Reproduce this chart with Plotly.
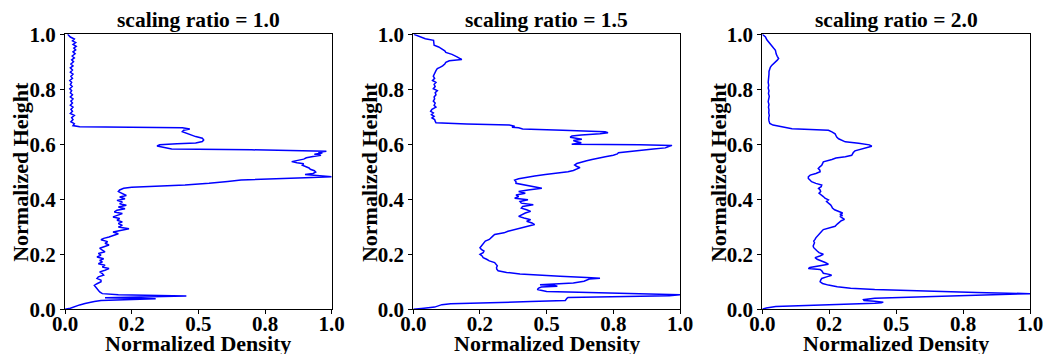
import plotly.graph_objects as go

# ---------------- data ----------------
titles = ["scaling ratio = 1.0", "scaling ratio = 1.5", "scaling ratio = 2.0"]
x_tickvals = [0.0, 0.25, 0.5, 0.75, 1.0]
x_ticktext = ["0.0", "0.2", "0.5", "0.8", "1.0"]
y_tickvals = [0.0, 0.2, 0.4, 0.6, 0.8, 1.0]
y_ticktext = ["0.0", "0.2", "0.4", "0.6", "0.8", "1.0"]

height_1 = [1.000, .990, .983, .976, .970, .963, .956, .950, .943, .936, .929, .921, .914, .907, .900,
            .892, .885, .878, .870, .862, .855, .847, .840, .832, .825, .817, .810, .802, .795, .787,
            .780, .772, .765, .757, .750, .742, .735, .727, .720, .712, .705, .697, .690, .682, .675,
            .668, .664, .662, .660, .656, .651, .646, .640, .634, .628, .622, .616, .610, .605, .602,
            .598, .594, .590, .586, .583, .580, .575, .571, .568, .564, .560, .556, .551, .546, .541,
            .537, .533, .529, .524, .519, .514, .509, .504, .499, .494, .490, .486, .482, .478, .474,
            .470, .465, .458, .452, .447, .444, .440, .434, .428, .421, .414, .408, .402, .396, .390,
            .384, .378, .372, .366, .360, .354, .348, .342, .336, .330, .324, .318, .312, .305, .299,
            .293, .287, .281, .275, .269, .263, .258, .253, .246, .240, .234, .228, .222, .215, .209,
            .203, .197, .190, .184, .178, .172, .166, .160, .154, .148, .142, .136, .130, .124, .118,
            .112, .106, .100, .093, .087, .081, .075, .069, .063, .057, .053, .048, .045, .042, .038,
            .035, .032, .028, .025, .021, .016, .010, .004, 0.0]
density_1 = [.010, .020, .035, .028, .040, .030, .042, .033, .040, .030, .038, .027, .035, .025, .032,
             .022, .030, .020, .028, .020, .030, .022, .028, .018, .025, .020, .027, .018, .025, .020,
             .028, .020, .030, .022, .028, .020, .030, .022, .028, .020, .035, .025, .030, .022, .035,
             .030, .055, .250, .440, .468, .445, .440, .455, .470, .490, .515, .520, .515, .490, .420,
             .355, .345, .365, .385, .400, .700, .980, .950, .965, .935, .960, .930, .905, .895, .870,
             .850, .870, .895, .890, .905, .915, .920, .935, .940, .930, .900, .950, 1.000, .900, .760,
             .660, .610, .540, .450, .330, .250, .220, .205, .200, .215, .230, .205, .225, .195, .215,
             .205, .230, .200, .225, .195, .185, .215, .195, .180, .205, .195, .215, .200, .215, .200,
             .240, .210, .180, .200, .185, .165, .145, .135, .160, .150, .165, .150, .130, .140, .150,
             .125, .135, .120, .145, .130, .140, .125, .150, .140, .165, .150, .130, .140, .145, .125,
             .120, .135, .135, .120, .110, .115, .120, .125, .130, .140, .200, .455, .300, .150, .340,
             .160, .135, .110, .090, .075, .055, .040, .020, 0.0]

height_2 = [1.000, .990, .984, .978, .970, .960, .954, .948, .940, .934, .927, .918, .912, .908, .904,
            .898, .892, .885, .880, .875, .868, .862, .855, .848, .840, .832, .825, .818, .810, .802,
            .795, .788, .780, .772, .765, .757, .750, .742, .735, .727, .720, .714, .708, .702, .696,
            .690, .684, .678, .674, .670, .666, .662, .660, .656, .651, .646, .642, .638, .634, .630,
            .626, .622, .618, .614, .610, .606, .602, .600, .598, .596, .591, .587, .583, .578, .573,
            .569, .565, .560, .555, .550, .545, .540, .535, .530, .525, .520, .515, .510, .505, .500,
            .495, .490, .485, .480, .475, .470, .464, .458, .452, .446, .440, .434, .428, .422, .416,
            .410, .404, .398, .392, .386, .380, .374, .368, .362, .356, .350, .344, .338, .332, .326,
            .320, .314, .308, .302, .296, .290, .284, .278, .272, .266, .260, .254, .248, .242, .236,
            .230, .224, .218, .212, .206, .200, .194, .188, .182, .176, .170, .164, .158, .152, .146,
            .140, .134, .128, .124, .120, .116, .113, .110, .106, .102, .096, .092, .089, .087, .084,
            .081, .077, .072, .068, .065, .062, .058, .053, .049, .046, .043, .040, .036, .032, .028,
            .024, .020, .017, .012, .008, .004, 0.0]
density_2 = [.002, .030, .045, .076, .076, .078, .095, .107, .118, .122, .145, .164, .175, .182, .135,
             .122, .118, .110, .100, .090, .085, .082, .080, .075, .080, .072, .085, .078, .082, .075,
             .090, .082, .085, .078, .080, .075, .082, .078, .085, .070, .065, .075, .068, .078, .070,
             .080, .082, .085, .200, .360, .380, .370, .395, .410, .560, .719, .730, .700, .630, .595,
             .588, .610, .632, .600, .610, .630, .600, .594, .850, .970, .955, .945, .900, .850, .790,
             .769, .765, .750, .720, .688, .670, .650, .625, .613, .605, .612, .625, .615, .600, .580,
             .545, .495, .455, .420, .395, .380, .385, .385, .420, .455, .482, .430, .395, .420, .385,
             .395, .380, .430, .400, .405, .450, .410, .405, .425, .440, .420, .410, .395, .415, .440,
             .425, .445, .455, .430, .395, .370, .355, .340, .305, .298, .290, .285, .270, .265, .262,
             .255, .250, .255, .265, .262, .250, .258, .262, .275, .285, .305, .310, .315, .312, .313,
             .318, .350, .400, .460, .550, .650, .700, .660, .650, .640, .600, .490, .475, .530, .540,
             .480, .470, .465, .480, .500, .620, .850, 1.000, .960, .750, .580, .576, .574, .570, .440,
             .250, .140, .107, .095, .080, .040, 0.0]

height_3 = [1.000, .990, .980, .972, .965, .958, .950, .942, .935, .928, .920, .912, .906, .900, .893,
            .887, .880, .872, .865, .855, .845, .835, .825, .815, .805, .795, .785, .775, .765, .755,
            .745, .735, .725, .715, .705, .695, .685, .676, .670, .665, .660, .657, .654, .651, .645,
            .638, .632, .626, .620, .614, .609, .604, .598, .593, .589, .585, .580, .576, .570, .565,
            .560, .555, .550, .545, .540, .536, .530, .524, .518, .512, .506, .500, .494, .488, .482,
            .476, .470, .464, .458, .452, .446, .440, .434, .428, .422, .416, .410, .404, .398, .392,
            .386, .380, .374, .368, .362, .356, .350, .345, .341, .338, .333, .327, .322, .316, .310,
            .302, .296, .290, .284, .278, .272, .266, .260, .254, .248, .242, .236, .230, .224, .218,
            .212, .206, .200, .194, .188, .182, .176, .170, .164, .158, .152, .148, .145, .140, .135,
            .131, .127, .124, .118, .112, .106, .100, .094, .088, .082, .077, .072, .066, .061, .057,
            .052, .046, .040, .035, .032, .029, .026, .024, .022, .018, .014, .010, .005, 0.0]
density_3 = [.000, .012, .017, .023, .028, .035, .042, .049, .050, .052, .056, .061, .056, .049, .040,
             .035, .030, .027, .025, .025, .024, .025, .022, .024, .022, .025, .023, .026, .024, .022,
             .025, .023, .025, .024, .026, .024, .025, .028, .040, .073, .095, .111, .180, .247, .260,
             .272, .275, .278, .285, .300, .310, .360, .400, .409, .395, .384, .360, .346, .340, .336,
             .334, .310, .275, .260, .240, .228, .225, .222, .215, .209, .215, .216, .200, .179, .172,
             .172, .178, .184, .200, .222, .220, .210, .216, .218, .212, .222, .228, .234, .247, .240,
             .250, .255, .259, .262, .270, .284, .300, .290, .300, .290, .298, .307, .295, .285, .280,
             .272, .245, .228, .222, .216, .210, .205, .200, .197, .192, .195, .191, .190, .192, .197,
             .205, .212, .228, .215, .197, .205, .222, .235, .247, .210, .178, .172, .216, .222, .226,
             .228, .250, .259, .240, .222, .218, .216, .225, .247, .280, .330, .420, .596, .800, 1.000,
             .800, .560, .420, .378, .380, .420, .452, .445, .420, .300, .130, .050, .015, 0.0]

heights = [height_1, height_2, height_3]
densities = [density_1, density_2, density_3]

# ---------------- layout geometry ----------------
# body margin is removed by the post script, so figure pixels = window pixels;
# the figure is a little wider than the window so the last tick label fits.
W, H = 1060, 354
panel_px = [(65.0, 331.7), (413.3, 680.0), (762.3, 1030.0)]
top_px, bottom_px = 34.3, 309.3
FONT = "Liberation Serif, Times New Roman, serif"


def fx(px):
    return px / W


def fy(py):
    return 1 - py / H


fig = go.Figure()
layout = dict(
    template="none",
    width=W, height=H,
    margin=dict(l=0, r=0, t=0, b=0, pad=0, autoexpand=False),
    paper_bgcolor="white", plot_bgcolor="white",
    showlegend=False,
    annotations=[],
)

ydom = [fy(bottom_px), fy(top_px)]
for i in range(3):
    n = "" if i == 0 else str(i + 1)
    fig.add_trace(go.Scatter(
        x=densities[i], y=heights[i], mode="lines",
        line=dict(color="#0000ff", width=1.5),
        xaxis="x" + n, yaxis="y" + n, hoverinfo="skip",
    ))
    l, r = panel_px[i]
    axis_common = dict(
        range=[0, 1], showgrid=False, zeroline=False, automargin=False,
        showline=True, mirror=True, linecolor="black", linewidth=1.3,
        ticks="outside", ticklen=4, tickwidth=1.2, tickcolor="black",
        tickfont=dict(family=FONT, size=21, color="black", weight="bold"),
        fixedrange=True,
    )
    layout["xaxis" + n] = dict(axis_common, domain=[fx(l), fx(r)], anchor="y" + n,
                               tickvals=x_tickvals, ticktext=x_ticktext,
                               ticklabelstandoff=-9)
    layout["yaxis" + n] = dict(axis_common, domain=ydom, anchor="x" + n,
                               tickvals=y_tickvals, ticktext=y_ticktext)
    cx = fx((l + r) / 2)
    layout["annotations"] += [
        dict(text=titles[i], x=cx, y=fy(34), xref="paper", yref="paper",
             xanchor="center", yanchor="bottom", showarrow=False,
             font=dict(family=FONT, size=21.5, color="black", weight="bold")),
        dict(text="Normalized Density", x=cx, y=fy(343), xref="paper", yref="paper",
             xanchor="center", yanchor="middle", showarrow=False,
             font=dict(family=FONT, size=22, color="black", weight="bold")),
        dict(text="Normalized Height", x=fx(l - 44), y=fy((top_px + bottom_px) / 2),
             xref="paper", yref="paper", xanchor="center", yanchor="middle",
             textangle=-90, showarrow=False,
             font=dict(family=FONT, size=22, color="black", weight="bold")),
    ]

fig.update_layout(**layout)
fig.write_html(
    "out.html",
    config={"displayModeBar": False},
    post_script="document.body.style.margin='0';document.body.style.overflow='hidden';",
)
